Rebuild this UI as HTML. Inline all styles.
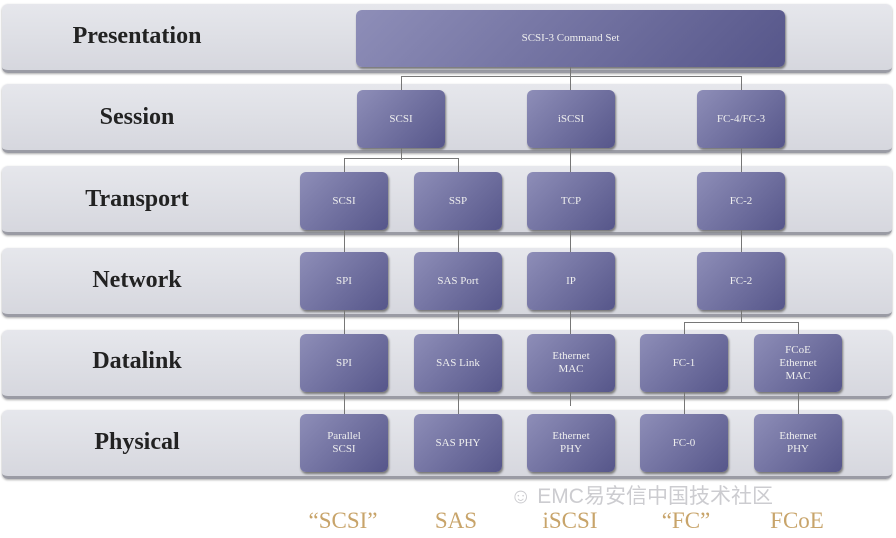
<!DOCTYPE html>
<html><head><style>
body{margin:0;width:896px;height:538px;background:#fff;position:relative;overflow:hidden;font-family:"Liberation Serif",serif}
.band{position:absolute;left:2px;width:890px;height:66px;border-radius:6px;background:linear-gradient(#e6e7ec,#d6d7de);border-bottom:3px solid #9a9ba4;box-shadow:0 1px 2px #aaa}
.lbl{position:absolute;left:30px;width:214px;text-align:center;font-size:24px;font-weight:bold;color:#222}
.b{position:absolute;width:88px;height:58px;border-radius:6px;background:linear-gradient(135deg,#8e8eb8,#56568a);box-shadow:1px 2px 2px #777;color:#eee;font-size:11px;display:flex;align-items:center;justify-content:center;text-align:center;line-height:13px}
.l{position:absolute;background:#777}
.v{width:1px}.h{height:1px}
.bot{position:absolute;top:508px;font-size:23px;color:#c8a46a;text-align:center;width:110px}
</style></head><body>
<div class="band" style="top:4px"></div>
<div class="band" style="top:84px"></div>
<div class="band" style="top:166px"></div>
<div class="band" style="top:248px"></div>
<div class="band" style="top:330px"></div>
<div class="band" style="top:410px"></div>
<div class="lbl" style="top:23px">Presentation</div>
<div class="lbl" style="top:104px">Session</div>
<div class="lbl" style="top:186px">Transport</div>
<div class="lbl" style="top:267px">Network</div>
<div class="lbl" style="top:348px">Datalink</div>
<div class="lbl" style="top:429px">Physical</div>

<div class="l v" style="left:570px;top:67px;height:9px"></div>
<div class="l h" style="left:401px;top:76px;width:340px"></div>
<div class="l v" style="left:401px;top:76px;height:84px"></div>
<div class="l v" style="left:570px;top:76px;height:330px"></div>
<div class="l v" style="left:741px;top:76px;height:246px"></div>
<div class="l h" style="left:344px;top:158px;width:114px"></div>
<div class="l v" style="left:344px;top:158px;height:260px"></div>
<div class="l v" style="left:458px;top:158px;height:260px"></div>
<div class="l h" style="left:684px;top:322px;width:114px"></div>
<div class="l v" style="left:684px;top:322px;height:96px"></div>
<div class="l v" style="left:798px;top:322px;height:96px"></div>

<div class="b" style="left:356px;top:10px;width:429px;height:57px">SCSI-3 Command Set</div>
<div class="b" style="left:357px;top:90px">SCSI</div>
<div class="b" style="left:527px;top:90px">iSCSI</div>
<div class="b" style="left:697px;top:90px">FC-4/FC-3</div>
<div class="b" style="left:300px;top:172px">SCSI</div>
<div class="b" style="left:414px;top:172px">SSP</div>
<div class="b" style="left:527px;top:172px">TCP</div>
<div class="b" style="left:697px;top:172px">FC-2</div>
<div class="b" style="left:300px;top:252px">SPI</div>
<div class="b" style="left:414px;top:252px">SAS Port</div>
<div class="b" style="left:527px;top:252px">IP</div>
<div class="b" style="left:697px;top:252px">FC-2</div>
<div class="b" style="left:300px;top:334px">SPI</div>
<div class="b" style="left:414px;top:334px">SAS Link</div>
<div class="b" style="left:527px;top:334px">Ethernet<br>MAC</div>
<div class="b" style="left:640px;top:334px">FC-1</div>
<div class="b" style="left:754px;top:334px">FCoE<br>Ethernet<br>MAC</div>
<div class="b" style="left:300px;top:414px">Parallel<br>SCSI</div>
<div class="b" style="left:414px;top:414px">SAS PHY</div>
<div class="b" style="left:527px;top:414px">Ethernet<br>PHY</div>
<div class="b" style="left:640px;top:414px">FC-0</div>
<div class="b" style="left:754px;top:414px">Ethernet<br>PHY</div>

<div style="position:absolute;left:510px;top:480px;font-size:21px;color:#ccccd0;font-family:'Liberation Sans','Noto Sans CJK SC',sans-serif">☺ EMC易安信中国技术社区</div>
<div class="bot" style="left:288px">“SCSI”</div>
<div class="bot" style="left:401px">SAS</div>
<div class="bot" style="left:515px">iSCSI</div>
<div class="bot" style="left:631px">“FC”</div>
<div class="bot" style="left:742px">FCoE</div>
</body></html>
